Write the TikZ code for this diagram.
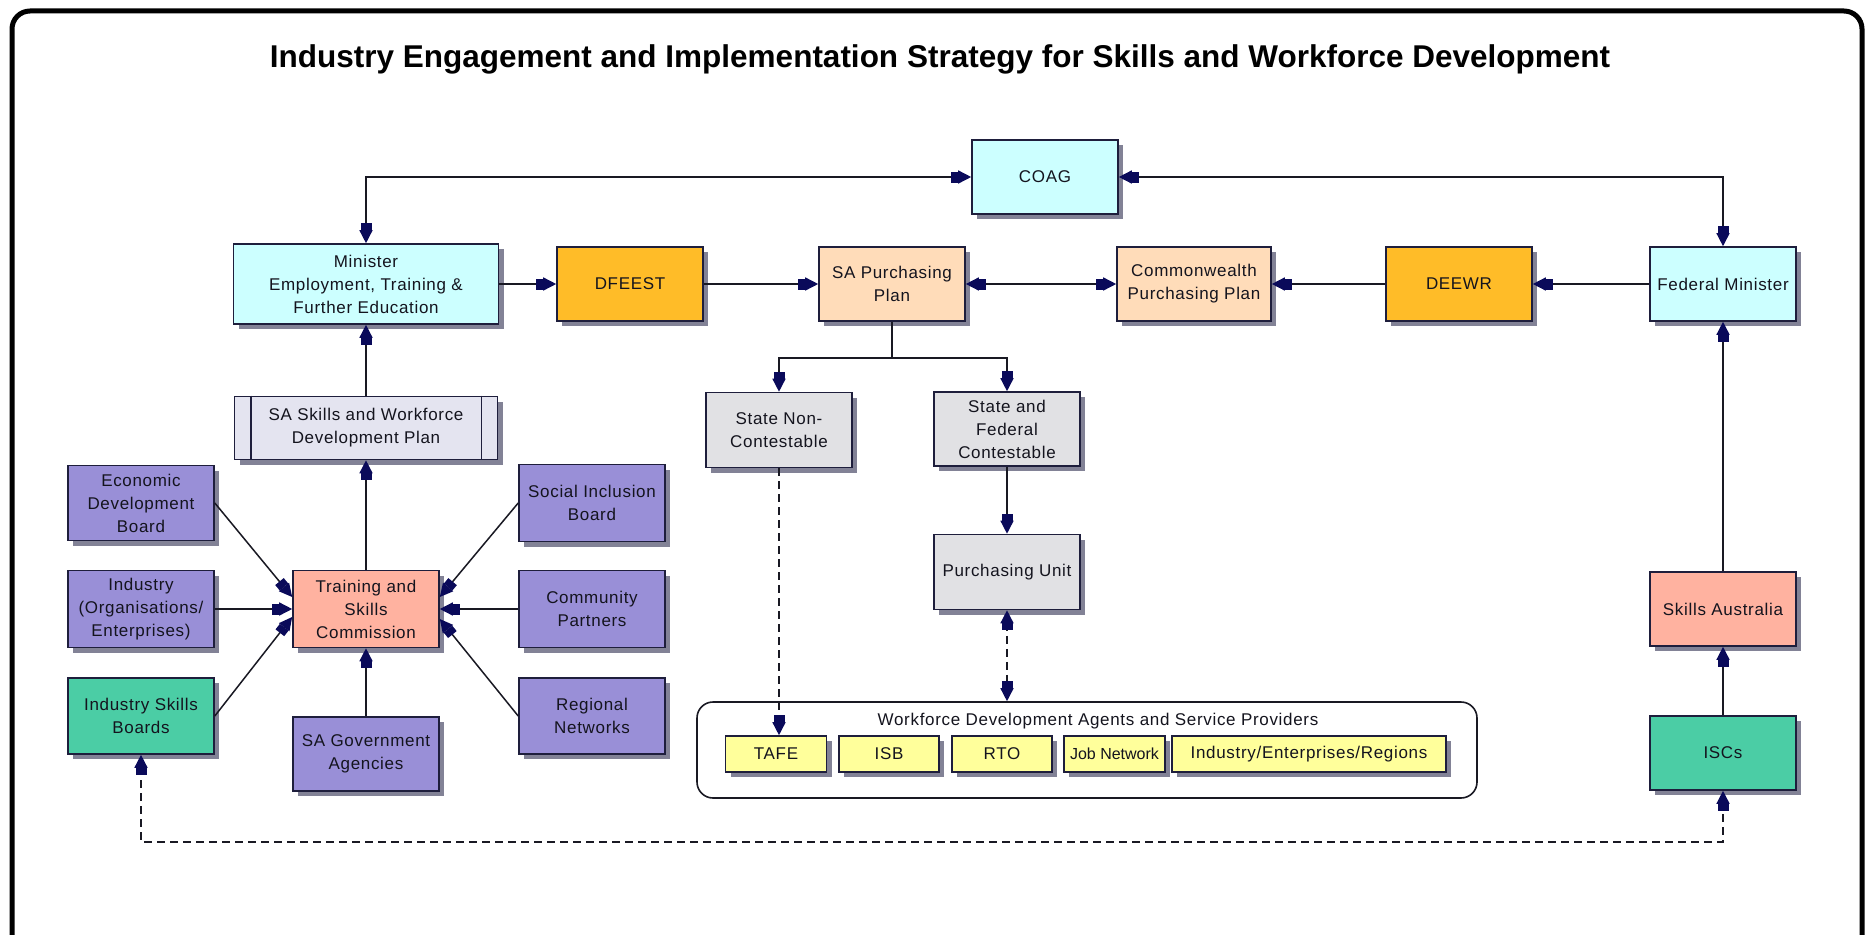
\documentclass[tikz,border=0pt]{standalone}
\usepackage{fontspec}
\setmainfont{Liberation Sans}
\newfontfamily\boxfont[LetterSpace=4]{Liberation Sans}
\usetikzlibrary{arrows.meta,shadows}
\definecolor{cyanc}{RGB}{204,255,255}
\definecolor{orangec}{RGB}{255,188,40}
\definecolor{peachc}{RGB}{255,220,185}
\definecolor{purplec}{RGB}{153,143,215}
\definecolor{tealc}{RGB}{75,205,165}
\definecolor{salmonc}{RGB}{255,178,160}
\definecolor{grayc}{RGB}{225,225,228}
\definecolor{lavc}{RGB}{228,228,240}
\definecolor{yellowc}{RGB}{255,255,155}
\definecolor{bordercol}{RGB}{30,30,60}
\definecolor{shadowcol}{RGB}{130,130,150}
\definecolor{arrowcol}{RGB}{10,10,90}
\definecolor{linecol}{RGB}{25,25,35}
\definecolor{textcol}{RGB}{20,20,30}
\tikzset{
  navytip/.tip={Rectangle[length=7pt,width=11pt,sep=0pt,color=arrowcol,fill=arrowcol]Triangle[length=13pt,width=13pt,sep=0pt,color=arrowcol,fill=arrowcol]},
  box/.style={draw=bordercol, line width=1.6pt, minimum width=146pt, minimum height=74pt,
    align=center, font=\boxfont\fontsize{17}{23}\selectfont, text=textcol, inner sep=2pt,
    drop shadow={shadow xshift=5pt, shadow yshift=-5pt, fill=shadowcol, opacity=1}},
  ybox/.style={box, fill=yellowc, minimum height=36pt},
  conn/.style={draw=linecol, line width=1.5pt},
  arr/.style={conn, -navytip},
  darr/.style={conn, navytip-navytip},
  dashline/.style={dash pattern=on 8pt off 5pt},
}
\begin{document}
\begin{tikzpicture}[x=1pt,y=-1pt]
\useasboundingbox (0,0) rectangle (1865,934);
\fill[white] (0,0) rectangle (1865,934);
\draw[line width=5pt, rounded corners=18pt] (12,11) rectangle (1862,960);

\node[font=\bfseries\fontsize{31.5}{36}\selectfont, anchor=base] (title) at (940,67)
  {Industry Engagement and Implementation Strategy for Skills and Workforce Development};

% top row
\node[box, fill=cyanc] (coag) at (1045,177) {COAG};
\node[box, fill=cyanc, minimum width=265pt, minimum height=80pt] (minister) at (366,284) {Minister\\Employment, Training \&\\Further Education};
\node[box, fill=orangec] (dfeest) at (630,284) {DFEEST};
\node[box, fill=peachc] (sapp) at (892,284) {SA Purchasing\\Plan};
\node[box, fill=peachc, minimum width=154pt] (cwpp) at (1194,284) {Commonwealth\\Purchasing Plan};
\node[box, fill=orangec] (deewr) at (1459,284) {DEEWR};
\node[box, fill=cyanc] (fedmin) at (1723,284) {Federal Minister};

% left cluster
\node[box, fill=lavc, minimum width=263pt, minimum height=63pt] (saskills) at (366,428) {SA Skills and Workforce\\Development Plan};
\draw[draw=bordercol, line width=1.6pt] ([xshift=17pt]saskills.north west) -- ([xshift=17pt]saskills.south west);
\draw[draw=bordercol, line width=1.6pt] ([xshift=-17pt]saskills.north east) -- ([xshift=-17pt]saskills.south east);
\node[box, fill=purplec, minimum height=75pt] (econ) at (141,503) {Economic\\Development\\Board};
\node[box, fill=purplec, minimum height=77pt] (industry) at (141,609) {Industry\\(Organisations/\\Enterprises)};
\node[box, fill=tealc, minimum height=76pt] (isb) at (141,716) {Industry Skills\\Boards};
\node[box, fill=salmonc, minimum height=77pt] (train) at (366,609) {Training and\\Skills\\Commission};
\node[box, fill=purplec] (sagov) at (366,754) {SA Government\\Agencies};
\node[box, fill=purplec, minimum height=77pt] (social) at (592,503) {Social Inclusion\\Board};
\node[box, fill=purplec, minimum height=77pt] (community) at (592,609) {Community\\Partners};
\node[box, fill=purplec, minimum height=76pt] (regional) at (592,716) {Regional\\Networks};

% middle
\node[box, fill=grayc, minimum height=75pt] (snc) at (779,430) {State Non-\\Contestable};
\node[box, fill=grayc] (sfc) at (1007,429) {State and\\Federal\\Contestable};
\node[box, fill=grayc, minimum height=75pt] (pu) at (1007,572) {Purchasing Unit};

\node[draw=linecol, line width=1.6pt, rounded corners=16pt, minimum width=780pt, minimum height=96pt] (wfd) at (1087,750) {};
\node[font=\boxfont\fontsize{17}{23}\selectfont, text=textcol] (wfdtitle) at (1098,721) {Workforce Development Agents and Service Providers};
\node[ybox, minimum width=101pt] (tafe) at (776,754) {TAFE};
\node[ybox, minimum width=100pt] (isbp) at (889,754) {ISB};
\node[ybox, minimum width=100pt] (rto) at (1002,754) {RTO};
\node[ybox, minimum width=101pt, font=\fontsize{16}{20}\selectfont] (jobnet) at (1114.5,754) {Job Network};
\node[ybox, minimum width=274pt] (ier) at (1309,754) {Industry/Enterprises/Regions};

% right column
\node[box, fill=salmonc] (skillsaus) at (1723,609) {Skills Australia};
\node[box, fill=tealc] (iscs) at (1723,753) {ISCs};

% connectors
\draw[darr] (minister.north) |- (coag.west);
\draw[darr] (fedmin.north) |- (coag.east);
\draw[arr] (minister.east) -- (dfeest.west);
\draw[arr] (dfeest.east) -- (sapp.west);
\draw[darr] (sapp.east) -- (cwpp.west);
\draw[arr] (deewr.west) -- (cwpp.east);
\draw[arr] (fedmin.west) -- (deewr.east);
\draw[arr] (saskills.north) -- (minister.south);
\draw[arr] (train.north) -- (saskills.south);
\draw[arr] (sagov.north) -- (train.south);
\draw[arr] (econ.east) -- ([yshift=12pt]train.west);
\draw[arr] (industry.east) -- (train.west);
\draw[arr] (isb.east) -- ([yshift=-8pt]train.west);
\draw[arr] (social.west) -- ([yshift=12pt]train.east);
\draw[arr] (community.west) -- (train.east);
\draw[arr] (regional.west) -- ([yshift=-10pt]train.east);

\coordinate (br) at (892,358);
\draw[conn] (sapp.south) -- (br);
\draw[arr] (br) -| (snc.north);
\draw[arr] (br) -| (sfc.north);
\draw[arr] (sfc.south) -- (pu.north);
\draw[darr, dashline] (pu.south) -- (pu.south |- wfd.north);
\draw[arr, dashline] (snc.south) -- (snc.south |- tafe.north);

\draw[arr] (iscs.north) -- (skillsaus.south);
\draw[arr] (skillsaus.north) -- (fedmin.south);

\coordinate (dl) at (141,842);
\coordinate (dr) at (1723,842);
\draw[darr, dashline] (isb.south) -- (dl) -- (dr) -- (iscs.south);
\end{tikzpicture}
\end{document}
